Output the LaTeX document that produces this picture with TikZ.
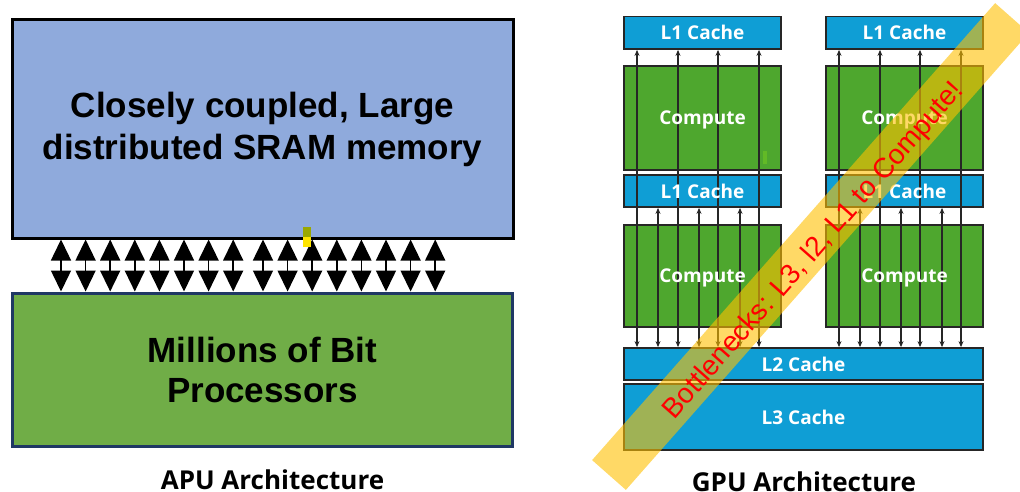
\documentclass[tikz,border=0pt]{standalone}
\usepackage{fontspec}
\setmainfont{Liberation Sans}
\newfontfamily\labelfont{Open Sans}
\usetikzlibrary{arrows.meta,fit}
\definecolor{memblue}{HTML}{8FAADC}
\definecolor{procgreen}{HTML}{70AD47}
\definecolor{procedge}{HTML}{1F3864}
\definecolor{cacheblue}{HTML}{0F9ED5}
\definecolor{coregreen}{HTML}{4EA72E}
\definecolor{gpuedge}{HTML}{262626}
\definecolor{bandyellow}{HTML}{FFC000}
\definecolor{markolive}{HTML}{9AA800}
\definecolor{markyellow}{HTML}{FFE500}
\definecolor{markgreen}{HTML}{62BA26}
\begin{document}
\begin{tikzpicture}[x=1pt,y=-1pt,
  apubox/.style={line width=3pt, inner sep=0pt},
  apulabel/.style={inner sep=0pt, align=center, font=\bfseries\fontsize{35}{42}\selectfont},
  gpubox/.style={draw=gpuedge, line width=1.8pt, inner sep=0pt},
  cache/.style={gpubox, fill=cacheblue},
  core/.style={gpubox, fill=coregreen},
  boxtext/.style={text=white, inner sep=0pt,
    font=\labelfont\bfseries\fontsize{19}{21}\selectfont},
  busarrow/.style={line width=1.5pt,
    {Triangle[width=20pt,length=21pt]}-{Triangle[width=20pt,length=21pt]}},
  wire/.style={line width=1.1pt, draw=black!85,
    {Stealth[width=5pt,length=6pt]}-{Stealth[width=5pt,length=6pt]}},
  caption/.style={anchor=base, inner sep=0pt,
    font=\labelfont\bfseries\fontsize{26}{30}\selectfont},
  band/.style={line width=45pt, draw=bandyellow, draw opacity=0.6},
  bandnote/.style={text=red, inner sep=0pt, font=\fontsize{28}{30}\selectfont},
]
\useasboundingbox (0,0) rectangle (1020,491);
\clip (0,0) rectangle (1020,491);

% ---------- APU ----------
\node[apubox, draw=black, fill=memblue, fit={(12.5,19.5) (513,238)}] (mem) {};
\node[apubox, draw=procedge, fill=procgreen, fit={(12.5,293) (512,446.5)}] (proc) {};
\node[apulabel] (memtext) at (262.5,129) {Closely coupled, Large\\distributed SRAM memory};
\node[apulabel, font=\bfseries\fontsize{35}{40}\selectfont] (proctext) at (262.5,370)
  {Millions of Bit\\Processors};

\foreach \i in {0,...,7}{
  \draw[busarrow] (61+24.6*\i,0 |- mem.south) -- (61+24.6*\i,0 |- proc.north);
  \draw[busarrow] (263+24.6*\i,0 |- mem.south) -- (263+24.6*\i,0 |- proc.north);
}
\fill[markolive] (303,227) rectangle (311,237);
\fill[markyellow] (303,237) rectangle (311,247);

\node[caption] (apucap) at (272.5,489) {APU Architecture};

% ---------- GPU ----------
\foreach \c/\x in {a/624,b/826}{
  \node[cache, fit={(\x,16.5) (\x+157,49)}] (l1top\c) {};
  \node[core, fit={(\x,66) (\x+157,170)}] (cutop\c) {};
  \node[cache, fit={(\x,175) (\x+157,207)}] (l1mid\c) {};
  \node[core, fit={(\x,225) (\x+157,327)}] (cubot\c) {};
}
\node[cache, fit={(624,348) (983,380)}] (ltwo) {};
\node[cache, fit={(624,384) (983,450)}] (lthree) {};

\fill[markgreen] (763,151) rectangle (767,164);

\foreach \c/\x in {a/624,b/826}{
  \foreach \dx in {13,54,94,135}
    \draw[wire] (\x+\dx,0 |- l1top\c.south) -- (\x+\dx,0 |- ltwo.north);
  \foreach \dx in {34,75,116}
    \draw[wire] (\x+\dx,0 |- l1mid\c.south) -- (\x+\dx,0 |- ltwo.north);
}

\foreach \c in {a,b}{
  \node[boxtext] (l1top\c-t) at (l1top\c.center) {L1 Cache};
  \node[boxtext] (cutop\c-t) at ([yshift=-2pt]cutop\c.center) {Compute};
  \node[boxtext] (l1mid\c-t) at (l1mid\c.center) {L1 Cache};
  \node[boxtext] (cubot\c-t) at ([yshift=-2pt]cubot\c.center) {Compute};
}
\node[boxtext] (ltwo-t) at (ltwo.center) {L2 Cache};
\node[boxtext] (lthree-t) at (lthree.center) {L3 Cache};

\node[caption] (gpucap) at (804,491) {GPU Architecture};

% ---------- highlight band ----------
\coordinate (bandA) at (609,475);
\coordinate (bandB) at (1012,18);
\draw[band] (bandA) -- (bandB);
\node[bandnote, rotate=48.6] (note) at (814,251) {Bottlenecks: L3, l2, L1 to Compute!};
\end{tikzpicture}
\end{document}
